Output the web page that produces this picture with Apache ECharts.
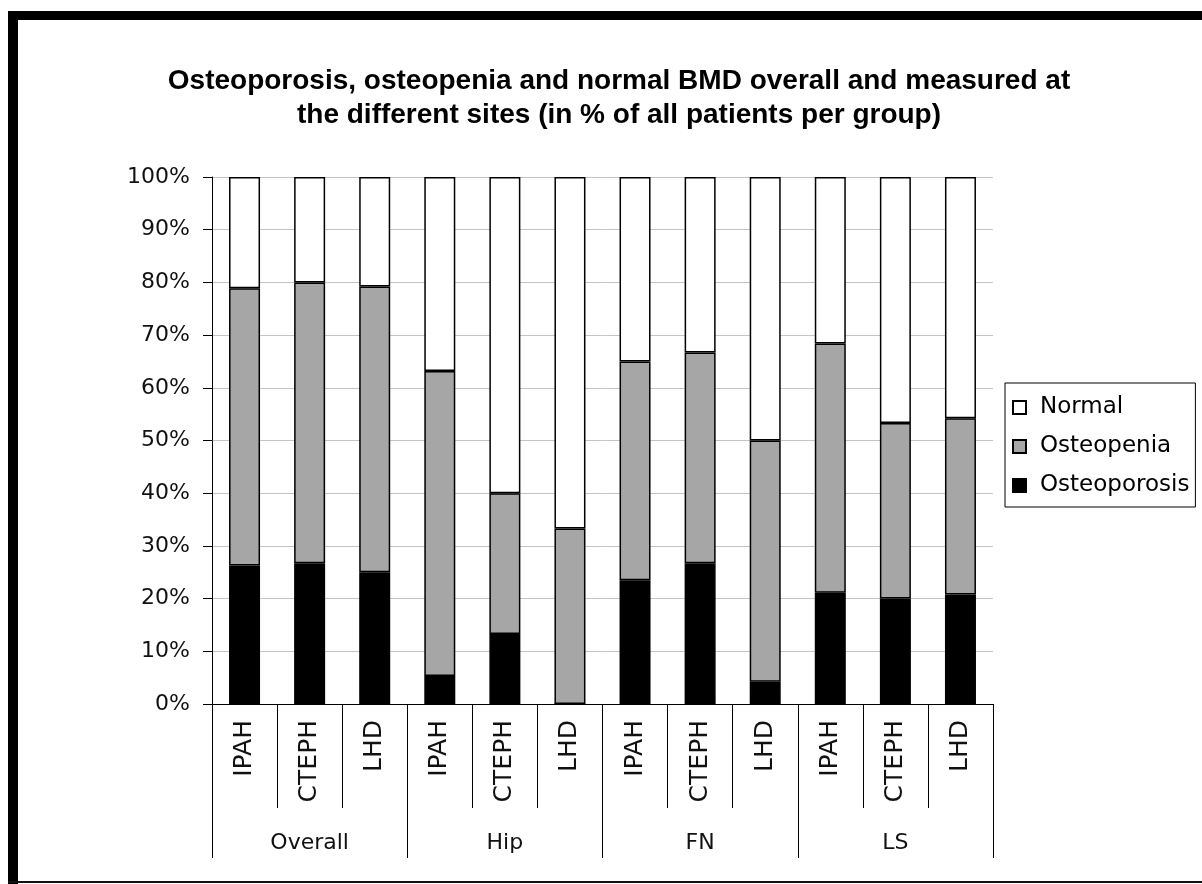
<!DOCTYPE html>
<html>
<head>
<meta charset="utf-8">
<script src="https://cdn.jsdelivr.net/npm/echarts@6/dist/echarts.min.js"></script>
<style>
  html, body { margin: 0; padding: 0; background: #fff; }
  #chart { width: 1202px; height: 884px; }
</style>
</head>
<body>
<div id="chart"></div>
<script>
// ---- Data (percent of all patients per group) ----
const categories = ['IPAH', 'CTEPH', 'LHD', 'IPAH', 'CTEPH', 'LHD', 'IPAH', 'CTEPH', 'LHD', 'IPAH', 'CTEPH', 'LHD'];
const groups = ['Overall', 'Hip', 'FN', 'LS'];
const osteoporosis = [26.3, 26.7, 25.0, 5.3, 13.3, 0.0, 23.5, 26.7, 4.2, 21.1, 20.0, 20.8];
const osteopenia   = [52.6, 53.3, 54.2, 57.9, 26.7, 33.3, 41.5, 40.0, 45.8, 47.3, 33.3, 33.4];
const normal       = [21.1, 20.0, 20.8, 36.8, 60.0, 66.7, 35.0, 33.3, 50.0, 31.6, 46.7, 45.8];
const yTicks = [0, 10, 20, 30, 40, 50, 60, 70, 80, 90, 100];
const titleLines = [
  'Osteoporosis, osteopenia and normal BMD overall and measured at',
  'the different sites (in % of all patients per group)'
];

const FONT = 'DejaVu Sans';
const chart = echarts.init(document.getElementById('chart'), null, { renderer: 'canvas' });

const barStyle = (color) => ({ color: color, borderColor: '#000', borderWidth: 1.5 });

chart.setOption({
  animation: false,
  backgroundColor: '#fff',
  title: {
    text: titleLines.join('\n'),
    left: 614,
    top: 59,
    textAlign: 'center',
    textStyle: {
      fontFamily: 'Liberation Sans',
      fontWeight: 'bold',
      fontSize: 28,
      lineHeight: 34,
      color: '#000'
    }
  },
  legend: {
    data: ['Normal', 'Osteopenia', 'Osteoporosis'],
    orient: 'vertical',
    left: 1005,
    top: 383,
    padding: [13, 6, 10, 7],
    itemWidth: 13,
    itemHeight: 13,
    itemGap: 16,
    icon: 'rect',
    backgroundColor: '#fff',
    borderColor: '#000',
    borderWidth: 1,
    textStyle: { fontFamily: FONT, fontSize: 23, color: '#000', padding: [0, 0, 0, 9] }
  },
  grid: { left: 212, right: 209, top: 177, bottom: 180, containLabel: false },
  xAxis: [
    {
      type: 'category',
      data: categories,
      position: 'bottom',
      axisLine: { show: true, lineStyle: { color: '#000', width: 1 } },
      axisTick: { show: true, interval: 0, length: 104, lineStyle: { color: '#000', width: 1 } },
      axisLabel: {
        interval: 0, rotate: 90, margin: 16,
        fontFamily: FONT, fontSize: 25, color: '#111'
      },
      splitLine: { show: false }
    },
    {
      type: 'category',
      data: groups,
      position: 'bottom',
      axisLine: { show: false },
      axisTick: { show: true, interval: 0, length: 154, lineStyle: { color: '#000', width: 1 } },
      axisLabel: {
        interval: 0, margin: 128,
        fontFamily: FONT, fontSize: 22, color: '#111'
      },
      splitLine: { show: false }
    }
  ],
  yAxis: {
    type: 'value',
    min: yTicks[0],
    max: yTicks[yTicks.length - 1],
    interval: 10,
    axisLine: { show: true, lineStyle: { color: '#000', width: 1 } },
    axisTick: { show: true, length: 9, lineStyle: { color: '#000' } },
    axisLabel: {
      margin: 22, formatter: '{value}%',
      fontFamily: FONT, fontSize: 22, color: '#111'
    },
    splitLine: { show: true, lineStyle: { color: '#c4c4c4', width: 1 } }
  },
  series: [
    { name: 'Osteoporosis', type: 'bar', stack: 'bmd', barWidth: 31, data: osteoporosis, itemStyle: barStyle('#000000') },
    { name: 'Osteopenia', type: 'bar', stack: 'bmd', barWidth: 31, data: osteopenia, itemStyle: barStyle('#a6a6a6') },
    { name: 'Normal', type: 'bar', stack: 'bmd', barWidth: 31, data: normal, itemStyle: barStyle('#ffffff') }
  ],
  graphic: [
    { type: 'rect', shape: { x: 8, y: 11, width: 1194, height: 9 }, style: { fill: '#000' }, silent: true },
    { type: 'rect', shape: { x: 8, y: 11, width: 10, height: 873 }, style: { fill: '#000' }, silent: true },
    { type: 'rect', shape: { x: 8, y: 881, width: 1194, height: 2 }, style: { fill: '#111' }, silent: true }
  ]
});
</script>
</body>
</html>
